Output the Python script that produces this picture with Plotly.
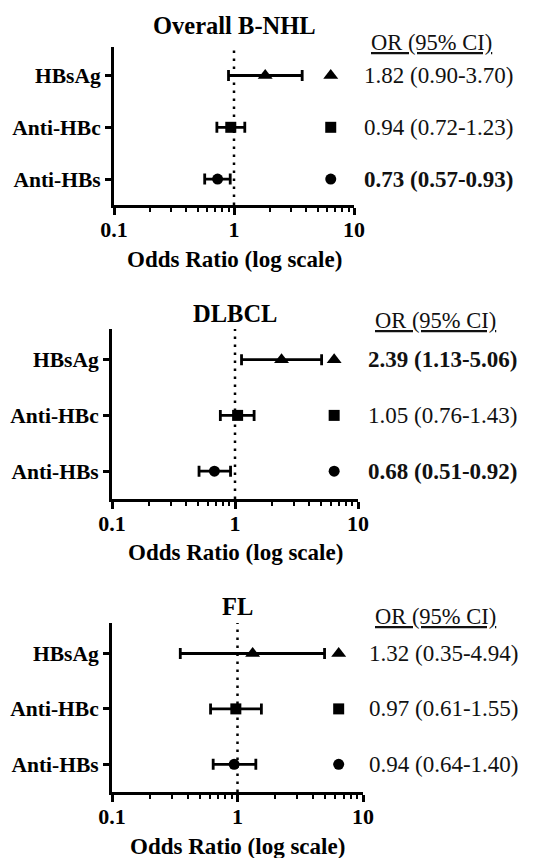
import plotly.graph_objects as go

# ---------------- data ----------------
markers = ["HBsAg", "Anti-HBc", "Anti-HBs"]
symbols = ["triangle-up", "square", "circle"]
panel_titles = ["Overall B-NHL", "DLBCL", "FL"]

or_overall = [1.82, 0.94, 0.73]
lo_overall = [0.90, 0.72, 0.57]
hi_overall = [3.70, 1.23, 0.93]

or_dlbcl = [2.39, 1.05, 0.68]
lo_dlbcl = [1.13, 0.76, 0.51]
hi_dlbcl = [5.06, 1.43, 0.92]

or_fl = [1.32, 0.97, 0.94]
lo_fl = [0.35, 0.61, 0.64]
hi_fl = [4.94, 1.55, 1.40]

x_tick_vals = [0.1, 1, 10]
x_tick_text = ["0.1", "1", "10"]
x_minor_vals = [0.2, 0.3, 0.4, 0.5, 0.6, 0.7, 0.8, 0.9, 2, 3, 4, 5, 6, 7, 8, 9]
header_text = "OR (95% CI)"
x_axis_title = "Odds Ratio (log scale)"

panels = [
    (or_overall, lo_overall, hi_overall),
    (or_dlbcl, lo_dlbcl, hi_dlbcl),
    (or_fl, lo_fl, hi_fl),
]

# ---------------- layout helpers ----------------
PAGE_W, PAGE_H = 559, 858
OFF = 8                      # default page body margin
W, H = PAGE_W - OFF, PAGE_H - OFF
FONT = "Liberation Serif"
y_pos = [2, 1, 0]          # row slots, top to bottom
LEGEND_X = 6.4             # x position of the symbol column (data units)
marker_sizes = [13, 11, 11]


def px_x(p):
    return (p - OFF) / W


def px_y(p):
    return 1 - (p - OFF) / H


# pixel geometry of each panel (page pixels): (x_left, x_right, y_top, y_bottom,
# title_y, axis_title_y, header_cx, header_y, values_left_x)
geo = [
    (114, 354, 47, 205, 25, 260, 431, 43, 362),
    (112, 358, 329, 499, 313, 552, 435, 320, 366),
    (112, 363, 623, 792, 606, 846, 436, 616, 367),
]

fig = go.Figure()
layout_axes = {}
shapes = []
annotations = []

for i, ((orv, lo, hi), g) in enumerate(zip(panels, geo)):
    xl, xr, yt, yb, ty, aty, hcx, hy, vx = g
    n = "" if i == 0 else str(i + 1)
    xa, ya = "x" + n, "y" + n

    # forest-plot points with CI bars
    for j in range(3):
        fig.add_trace(go.Scatter(
            x=[orv[j]], y=[y_pos[j]], xaxis=xa, yaxis=ya, mode="markers",
            marker=dict(symbol=symbols[j], size=marker_sizes[j], color="black"),
            error_x=dict(type="data", symmetric=False,
                         array=[hi[j] - orv[j]], arrayminus=[orv[j] - lo[j]],
                         color="black", thickness=2.8, width=5.5),
            showlegend=False, hoverinfo="skip"))
        # symbol key at right
        fig.add_trace(go.Scatter(
            x=[LEGEND_X], y=[y_pos[j]], xaxis=xa, yaxis=ya, mode="markers",
            marker=dict(symbol=symbols[j], size=marker_sizes[j], color="black"),
            showlegend=False, hoverinfo="skip", cliponaxis=False))
        # value text
        txt = f"{orv[j]:.2f} ({lo[j]:.2f}-{hi[j]:.2f})"
        if lo[j] > 1 or hi[j] < 1:
            txt = f"<b>{txt}</b>"
        annotations.append(dict(
            x=px_x(vx), xref="paper", y=y_pos[j], yref=ya, text=txt,
            xanchor="left", yanchor="middle", showarrow=False,
            font=dict(family=FONT, size=23, color="#111")))

    # dotted reference line at OR = 1
    shapes.append(dict(type="line", xref=xa, x0=1, x1=1,
                       yref=ya + " domain", y0=0, y1=1,
                       line=dict(color="black", width=2.5, dash="2.5px,5.5px")))

    layout_axes["xaxis" + n] = dict(
        domain=[px_x(xl), px_x(xr)], anchor=ya, type="log", range=[-1, 1],
        automargin=False,
        showline=True, linecolor="black", linewidth=2.5, showgrid=False,
        zeroline=False, tickmode="array", tickvals=x_tick_vals,
        ticktext=[f"<b>{t}</b>" for t in x_tick_text],
        ticks="outside", ticklen=7, tickwidth=2.5, tickcolor="black",
        ticklabelstandoff=-4,
        tickfont=dict(family=FONT, size=22, color="black"),
        minor=dict(tickmode="array", tickvals=x_minor_vals, ticks="outside",
                   ticklen=4, tickwidth=2, tickcolor="black", showgrid=False),
        fixedrange=True)
    layout_axes["yaxis" + n] = dict(
        domain=[px_y(yb), px_y(yt)], anchor=xa, range=[-0.5, 2.55],
        automargin=False,
        showline=True, linecolor="black", linewidth=3, showgrid=False,
        zeroline=False, tickmode="array", tickvals=y_pos,
        ticktext=[f"<b>{m}</b>" for m in markers],
        ticks="outside", ticklen=6, tickwidth=2.5, tickcolor="black",
        tickfont=dict(family=FONT, size=21.5, color="black"),
        fixedrange=True)

    # panel title
    annotations.append(dict(
        x=px_x((xl + xr) / 2), xref="paper", y=px_y(ty), yref="paper",
        text=f"<b>{panel_titles[i]}</b>", showarrow=False,
        xanchor="center", yanchor="middle",
        font=dict(family=FONT, size=24.5, color="black")))
    # x-axis title
    annotations.append(dict(
        x=px_x((xl + xr) / 2), xref="paper", y=px_y(aty), yref="paper",
        text=f"<b>{x_axis_title}</b>", showarrow=False,
        xanchor="center", yanchor="middle",
        font=dict(family=FONT, size=23, color="black")))
    # header
    annotations.append(dict(
        x=px_x(hcx), xref="paper", y=px_y(hy), yref="paper",
        text=f"<u>{header_text}</u>", showarrow=False,
        xanchor="center", yanchor="middle",
        font=dict(family=FONT, size=22.5, color="#111")))

fig.update_layout(
    width=W, height=H, margin=dict(l=0, r=0, t=0, b=0, autoexpand=False),
    paper_bgcolor="white", plot_bgcolor="white",
    font=dict(family=FONT),
    shapes=shapes, annotations=annotations, showlegend=False,
    **layout_axes)

fig.write_html("out.html")
